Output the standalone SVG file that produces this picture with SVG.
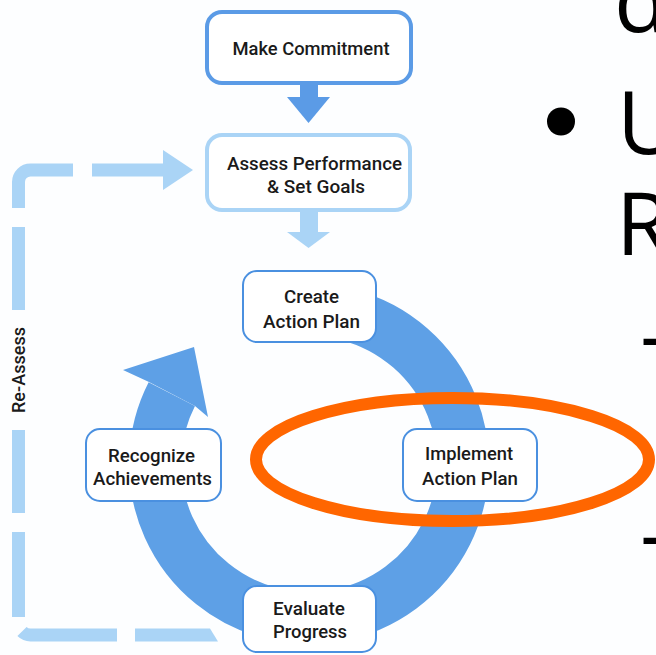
<svg xmlns="http://www.w3.org/2000/svg" width="656" height="655" viewBox="0 0 656 655">
<style>
.lbl{font-family:Roboto,"Liberation Sans",Arial,sans-serif;font-weight:500;font-size:18px;fill:#1a1a1a;text-anchor:middle}
.big{font-family:"Open Sans","DejaVu Sans",sans-serif;font-size:88px;fill:#000}
.node{fill:#fff;stroke:#4a90e0;stroke-width:2}
.dash{fill:none;stroke:#aad4f6;stroke-width:13}
</style>
<rect width="656" height="655" fill="#fdfeff"/>
<g id="connectors">
  <g id="reassess-loop">
    <path class="dash" d="M18.5 208 V182 A12 12 0 0 1 30.5 170 H73"/>
    <path class="dash" d="M92 170 H165"/>
    <polygon points="163,150 193,170 163,190" fill="#aad4f6"/>
    <path class="dash" d="M18.5 227 V310"/>
    <path class="dash" d="M18.5 430 V513"/>
    <path class="dash" d="M18.5 532 V617"/>
    <path class="dash" d="M22 631.5 A12 12 0 0 0 30.5 635 H117"/>
    <path class="dash" d="M135 635 H210"/>
    <polygon points="210,628.5 218,641.5 210,641.5" fill="#aad4f6"/>
    <text class="lbl" transform="translate(24.5,370) rotate(-90)" textLength="86" lengthAdjust="spacingAndGlyphs">Re-Assess</text>
  </g>
  <g id="arrow1">
    <rect x="300" y="82" width="18" height="16" fill="#5b9be6"/>
    <polygon points="287,97 330,97 308.5,123" fill="#5b9be6"/>
  </g>
  <g id="arrow2">
    <rect x="300" y="210" width="18" height="23" fill="#aad4f6"/>
    <polygon points="287,232 330,232 308.5,248" fill="#aad4f6"/>
  </g>
  <g id="cycle">
    <path d="M282.3 312.3 A154 154 0 1 1 171.8 394.1" fill="none" stroke="#5ea0e6" stroke-width="52"/>
    <polygon points="149,382 123,370 194,347 208,417 195,406" fill="#5ea0e6"/>
  </g>
</g>
<g id="make-commitment">
  <rect x="207" y="12" width="204" height="71" rx="15" fill="#fff" stroke="#5b9be6" stroke-width="4"/>
  <text class="lbl" x="311" y="55" textLength="157" lengthAdjust="spacingAndGlyphs">Make Commitment</text>
</g>
<g id="assess-performance">
  <rect x="207" y="135" width="203" height="75" rx="15" fill="#fff" stroke="#aad4f6" stroke-width="4"/>
  <text class="lbl" x="314.5" y="170" textLength="175" lengthAdjust="spacingAndGlyphs">Assess Performance</text>
  <text class="lbl" x="316" y="193" textLength="98" lengthAdjust="spacingAndGlyphs">&amp; Set Goals</text>
</g>
<g id="create-action-plan">
  <rect class="node" x="243" y="271" width="133" height="71" rx="14"/>
  <text class="lbl" x="311.5" y="303" textLength="55" lengthAdjust="spacingAndGlyphs">Create</text>
  <text class="lbl" x="311.5" y="328" textLength="97" lengthAdjust="spacingAndGlyphs">Action Plan</text>
</g>
<g id="implement-action-plan">
  <rect class="node" x="403" y="429" width="134" height="72" rx="14"/>
  <text class="lbl" x="469" y="460" textLength="88" lengthAdjust="spacingAndGlyphs">Implement</text>
  <text class="lbl" x="470" y="485" textLength="96" lengthAdjust="spacingAndGlyphs">Action Plan</text>
</g>
<g id="evaluate-progress">
  <rect class="node" x="243" y="586" width="133" height="66" rx="14"/>
  <text class="lbl" x="309" y="615" textLength="72" lengthAdjust="spacingAndGlyphs">Evaluate</text>
  <text class="lbl" x="310" y="638" textLength="74" lengthAdjust="spacingAndGlyphs">Progress</text>
</g>
<g id="recognize-achievements">
  <rect class="node" x="86" y="429" width="135" height="72" rx="14"/>
  <text class="lbl" x="151.5" y="462" textLength="87" lengthAdjust="spacingAndGlyphs">Recognize</text>
  <text class="lbl" x="152.5" y="485" textLength="119" lengthAdjust="spacingAndGlyphs">Achievements</text>
</g>
<g id="highlight">
  <ellipse cx="452.5" cy="459.5" rx="196.5" ry="61.5" fill="none" stroke="#ff6600" stroke-width="12"/>
</g>
<g id="slide-text">
  <text class="big" x="614" y="32">d</text>
  <circle cx="561" cy="121.5" r="14" fill="#000"/>
  <text class="big" x="617" y="154">U</text>
  <text class="big" x="616" y="255">R</text>
  <text class="big" x="640" y="365">–</text>
  <text class="big" x="640" y="564">–</text>
</g>
</svg>
